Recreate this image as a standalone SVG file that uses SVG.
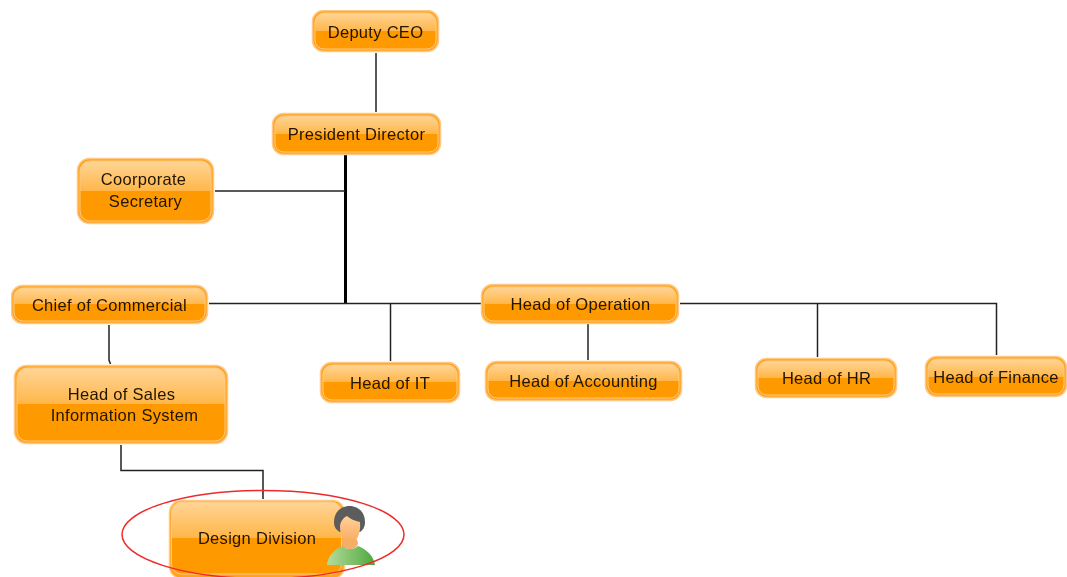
<svg xmlns="http://www.w3.org/2000/svg" width="1067" height="577" viewBox="0 0 1067 577">
<style>
.box{fill:url(#g);stroke:#ffca80;stroke-width:1}
.halo{fill:#ffa21f;stroke:#ffc885;stroke-width:1.5}
.t{font-family:"Liberation Sans",Arial,sans-serif;font-size:16.5px;fill:#201400;text-anchor:middle;letter-spacing:.3px}
.c{fill:none;stroke:#222;stroke-width:1.5}
</style>
<defs>
<linearGradient id="g" x1="0" y1="0" x2="0" y2="1">
<stop offset="0" stop-color="#ffd596"/><stop offset=".5" stop-color="#ffb649"/><stop offset=".5" stop-color="#ff9900"/><stop offset="1" stop-color="#ff9900"/>
</linearGradient>
<linearGradient id="sk" x1="0" y1="0" x2="0" y2="1"><stop offset="0" stop-color="#ffd09a"/><stop offset="1" stop-color="#f8aa5c"/></linearGradient>
<linearGradient id="sh" x1="0" y1="0" x2="1" y2="0"><stop offset="0" stop-color="#b5dc9a"/><stop offset="1" stop-color="#4da83f"/></linearGradient>
<filter id="soft" x="0" y="0" width="100%" height="100%"><feGaussianBlur stdDeviation=".4"/></filter>
</defs>
<g filter="url(#soft)">
<g id="connectors">
<path class="c" d="M376 53V112"/>
<path d="M345.500 155V303" fill="none" stroke="#000" stroke-width="3"/>
<path class="c" d="M215 191H345"/>
<path class="c" d="M209 303.500H481"/>
<path class="c" d="M390.500 304V361"/>
<path class="c" d="M588 324V360"/>
<path class="c" d="M680 303.500H996.500V355"/>
<path class="c" d="M817.500 304V357"/>
<path class="c" d="M109 325V360L110.500 364"/>
<path class="c" d="M121 445V470.500H263V499"/>
</g>
<g id="deputy-ceo"><rect class="halo" x="312.500" y="10.500" width="126" height="41" rx="11"/><rect class="box" x="315" y="13" width="121" height="36" rx="9"/><text class="t" x="375.500" y="38">Deputy CEO</text></g>
<g id="president-director"><rect class="halo" x="272.500" y="113.500" width="168" height="41" rx="11"/><rect class="box" x="275" y="116" width="163" height="36" rx="9"/><text class="t" x="356.500" y="140">President Director</text></g>
<g id="coorporate-secretary"><rect class="halo" x="77.500" y="158.500" width="136" height="65" rx="12"/><rect class="box" x="80" y="161" width="131" height="60" rx="10"/><text class="t" x="143.500" y="185">Coorporate</text><text class="t" x="145.500" y="207">Secretary</text></g>
<g id="chief-of-commercial"><rect class="halo" x="11.500" y="285.500" width="196" height="38" rx="11"/><rect class="box" x="14" y="288" width="191" height="33" rx="9"/><text class="t" x="109.500" y="311">Chief of Commercial</text></g>
<g id="head-of-sales"><rect class="halo" x="14.500" y="365.500" width="213" height="78" rx="12"/><rect class="box" x="17" y="368" width="208" height="73" rx="10"/><text class="t" x="121.500" y="400">Head of Sales</text><text class="t" x="124.500" y="421">Information System</text></g>
<g id="head-of-it"><rect class="halo" x="320.500" y="362.500" width="139" height="40" rx="11"/><rect class="box" x="323" y="365" width="134" height="35" rx="9"/><text class="t" x="390" y="389">Head of IT</text></g>
<g id="head-of-operation"><rect class="halo" x="481.500" y="284.500" width="197" height="39" rx="11"/><rect class="box" x="484" y="287" width="192" height="34" rx="9"/><text class="t" x="580.500" y="310">Head of Operation</text></g>
<g id="head-of-accounting"><rect class="halo" x="485.500" y="361.500" width="196" height="39" rx="11"/><rect class="box" x="488" y="364" width="191" height="34" rx="9"/><text class="t" x="583.500" y="387">Head of Accounting</text></g>
<g id="head-of-hr"><rect class="halo" x="755.500" y="358.500" width="141" height="39" rx="11"/><rect class="box" x="758" y="361" width="136" height="34" rx="9"/><text class="t" x="826.500" y="384">Head of HR</text></g>
<g id="head-of-finance"><rect class="halo" x="925.500" y="356.500" width="141" height="40" rx="11"/><rect class="box" x="928" y="359" width="136" height="35" rx="9"/><text class="t" x="996" y="383">Head of Finance</text></g>
<g id="design-division">
<rect class="halo" x="169.500" y="500.500" width="175" height="78" rx="12"/><rect class="box" x="171.500" y="502" width="170" height="72" rx="10"/>
<text class="t" x="257" y="544">Design Division</text>
<path d="M327 565C328 555 335 549 343 546C346 550 354 550 358 546C366 549 374 556 375 565Z" fill="url(#sh)"/>
<rect x="342" y="537" width="16" height="12" rx="7" fill="#f5ad6c"/>
<path d="M334 522C334 512 341 506 349.500 506C358 506 365 512 365 522C365 527 363 530 360 532L340 532C336 530 334 527 334 522Z" fill="#5c5c5c"/>
<path d="M340 527C340 522 343 518 347 516C350 519 355 521 360 522C361 533 357 543 350 543C344 543 340 536 340 527Z" fill="url(#sk)"/>
</g>
<ellipse id="highlight" cx="263" cy="534.500" rx="141" ry="44" fill="none" stroke="#ee2b2b" stroke-width="1.500"/>
</g>
</svg>
